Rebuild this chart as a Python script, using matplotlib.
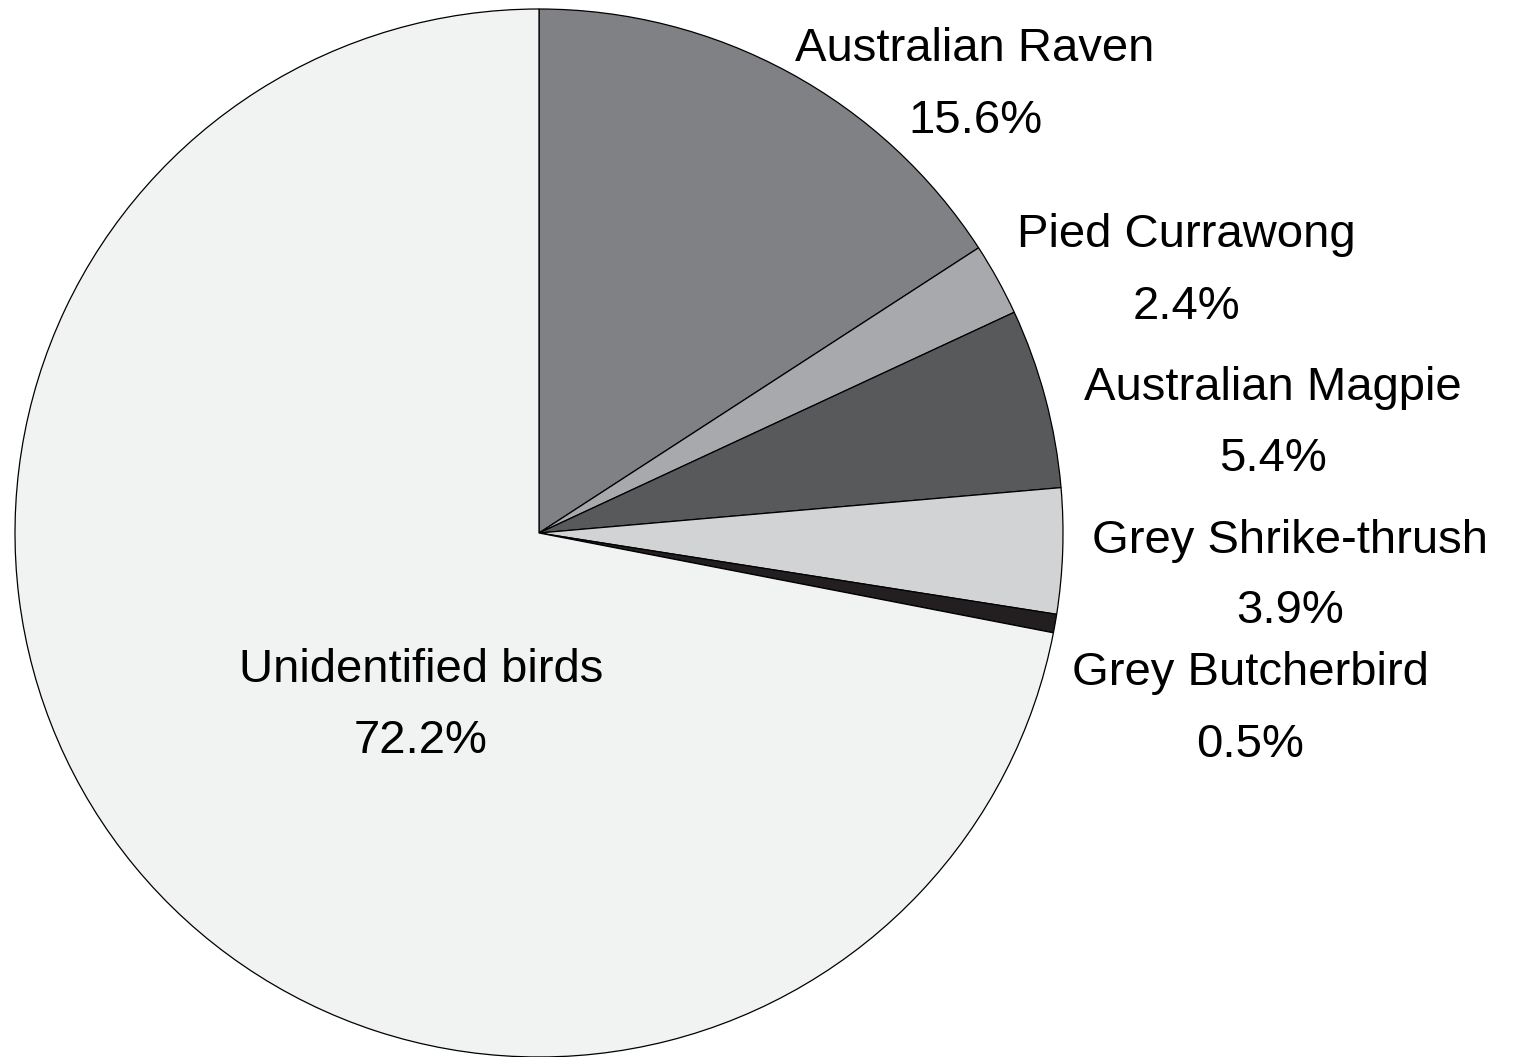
import matplotlib
matplotlib.use("Agg")
import matplotlib.pyplot as plt
from matplotlib import font_manager

names = ["Australian Raven", "Pied Currawong", "Australian Magpie",
         "Grey Shrike-thrush", "Grey Butcherbird", "Unidentified birds"]
# percentages as printed in the labels
label_pcts = [15.6, 2.4, 5.4, 3.9, 0.5, 72.2]
# wedge shares as drawn in the picture (measured from the slice angles)
wedge_shares = [15.84, 2.24, 5.54, 3.86, 0.57, 71.95]
colors = ["#808184", "#a7a9ac", "#58595b", "#d1d3d4", "#231f20", "#f1f2f2"]

avail = {f.name for f in font_manager.fontManager.ttflist}
narrow = "Liberation Sans Narrow" in avail
fam = "Liberation Sans Narrow" if narrow else "Liberation Sans"
fsize = 41 if narrow else 34
plt.rcParams['font.family'] = [fam, 'DejaVu Sans']

W, H = 1516, 1057
fig = plt.figure(figsize=(W / 100, H / 100), dpi=100)
cx, cy, r = 539, 533, 524
ax = fig.add_axes([(cx - r) / W, (H - cy - r) / H, 2 * r / W, 2 * r / H])
ax.pie(wedge_shares, colors=colors, startangle=90, counterclock=False, radius=1,
       wedgeprops=dict(edgecolor="black", linewidth=0.9))
ax.set_xlim(-1, 1)
ax.set_ylim(-1, 1)
ax.set_aspect("equal")
ax.axis("off")

# (center x, baseline line 1, baseline line 2) in pixels
label_px = [(975, 61, 133), (1186, 247, 319), (1273, 400, 471),
            (1290, 553, 623), (1250, 685, 757), (421, 682, 753)]
for name, v, (px, b1, b2) in zip(names, label_pcts, label_px):
    fig.text(px / W, 1 - b1 / H, name, ha="center", va="baseline", fontsize=fsize)
    fig.text(px / W, 1 - b2 / H, f"{v}%", ha="center", va="baseline", fontsize=fsize)

fig.savefig("out.png", dpi=100)
